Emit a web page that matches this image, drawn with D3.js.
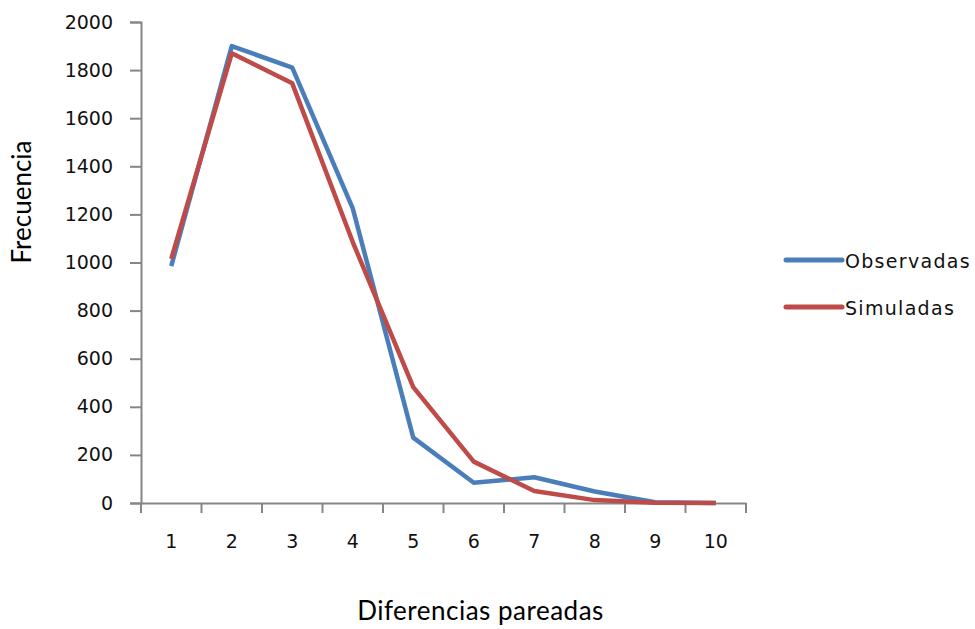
<!DOCTYPE html>
<html>
<head>
<meta charset="utf-8">
<script src="https://cdn.jsdelivr.net/npm/d3@7"></script>
<style>
  body { margin: 0; background: #fff; }
  svg { display: block; }
</style>
</head>
<body>
<script>
// data
const categories = ["1", "2", "3", "4", "5", "6", "7", "8", "9", "10"];
const observadas = [985, 1900, 1810, 1225, 272, 84, 107, 48, 3, 0];
const simuladas = [1015, 1870, 1745, 1085, 482, 172, 50, 12, 1, 0];
const yTicks = [0, 200, 400, 600, 800, 1000, 1200, 1400, 1600, 1800, 2000];
const seriesNames = ["Observadas", "Simuladas"];
const seriesColors = ["#4a7ebb", "#be4b48"];

const W = 975, H = 629;
const plotL = 141, plotR = 746, plotT = 22, plotB = 503;

const svg = d3.select("body").append("svg")
  .attr("width", W)
  .attr("height", H);

const x = d3.scaleBand()
  .domain(categories)
  .range([plotL, plotR]);

const y = d3.scaleLinear()
  .domain([0, 2000])
  .range([plotB, plotT]);

// y axis
svg.append("g")
  .attr("transform", `translate(${plotL},0)`)
  .call(d3.axisLeft(y).tickValues(yTicks).tickSize(11).tickPadding(17).tickFormat(d3.format("d")));

// x axis, ticks at band edges
const xAxis = svg.append("g")
  .attr("transform", `translate(0,${plotB})`)
  .call(d3.axisBottom(x).tickSize(0).tickPadding(32));

xAxis.selectAll(".edge")
  .data(d3.range(categories.length + 1))
  .enter().append("line")
  .attr("class", "edge")
  .attr("x1", i => plotL + i * x.step())
  .attr("x2", i => plotL + i * x.step())
  .attr("y1", 0)
  .attr("y2", 10);

svg.selectAll(".domain, .tick line, .edge")
  .attr("stroke", "#868686")
  .attr("stroke-width", 2);

svg.selectAll(".tick text")
  .attr("font-family", "DejaVu Sans")
  .attr("font-size", 19)
  .attr("fill", "#111");

const line = d3.line()
  .x((d, i) => x(categories[i]) + x.bandwidth() / 2)
  .y(d => y(d));

svg.selectAll(".series")
  .data([observadas, simuladas])
  .enter().append("path")
  .attr("class", "series")
  .attr("fill", "none")
  .attr("stroke", (d, i) => seriesColors[i])
  .attr("stroke-width", 4.5)
  .attr("stroke-linejoin", "round")
  .attr("d", line);

// legend
const legend = svg.selectAll(".legend")
  .data(seriesNames)
  .enter().append("g")
  .attr("class", "legend")
  .attr("transform", (d, i) => `translate(786,${260 + i * 47})`);

legend.append("line")
  .attr("x1", 0).attr("x2", 56)
  .attr("stroke", (d, i) => seriesColors[i])
  .attr("stroke-width", 5)
  .attr("stroke-linecap", "round");

legend.append("text")
  .attr("x", 59)
  .attr("y", 8)
  .attr("font-family", "DejaVu Sans")
  .attr("font-size", 19)
  .attr("letter-spacing", 1.3)
  .attr("fill", "#111")
  .text(d => d);

// axis titles
svg.append("text")
  .attr("x", 480.5)
  .attr("y", 620)
  .attr("text-anchor", "middle")
  .attr("font-family", "Lato")
  .attr("font-size", 26)
  .attr("letter-spacing", 0.5)
  .attr("fill", "#000")
  .text("Diferencias pareadas");

svg.append("text")
  .attr("transform", "translate(31,202) rotate(-90)")
  .attr("text-anchor", "middle")
  .attr("font-family", "Lato")
  .attr("font-size", 26)
  .attr("fill", "#000")
  .text("Frecuencia");
</script>
</body>
</html>
